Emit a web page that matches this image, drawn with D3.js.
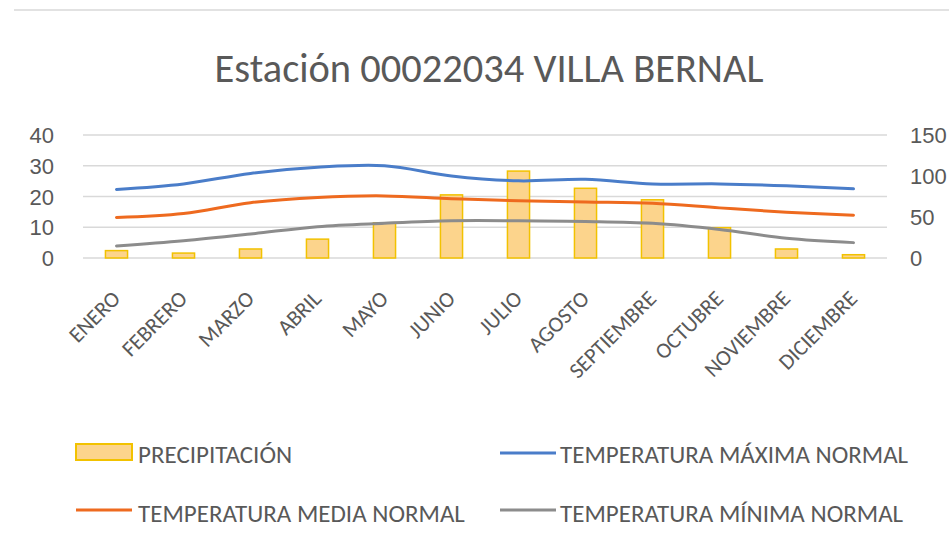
<!DOCTYPE html>
<html><head><meta charset="utf-8">
<script src="https://cdn.jsdelivr.net/npm/d3@7"></script>
<style>body{margin:0;background:#fff;} svg{display:block;font-family:Carlito,Lato,"Open Sans",sans-serif;}</style>
</head><body>
<svg id="c" width="949" height="549"></svg>
<script>
const months = ["ENERO","FEBRERO","MARZO","ABRIL","MAYO","JUNIO","JULIO","AGOSTO","SEPTIEMBRE","OCTUBRE","NOVIEMBRE","DICIEMBRE"];
const precipitacion = [9, 6, 11, 23, 43, 77, 106, 85, 71, 37, 11, 4];
const tMax = [22.3, 24.1, 27.5, 29.5, 30.0, 26.7, 25.1, 25.6, 24.1, 24.1, 23.5, 22.5];
const tMedia = [13.2, 14.5, 18.0, 19.7, 20.2, 19.3, 18.6, 18.2, 17.8, 16.3, 14.9, 13.9];
const tMin = [3.9, 5.6, 7.8, 10.2, 11.3, 12.1, 12.1, 11.9, 11.3, 9.3, 6.4, 5.0];
const leftTicks = [0, 10, 20, 30, 40];
const rightTicks = [0, 50, 100, 150];
const title = "Estación 00022034 VILLA BERNAL";
const legendLabels = ["PRECIPITACIÓN","TEMPERATURA MÁXIMA NORMAL","TEMPERATURA MEDIA NORMAL","TEMPERATURA MÍNIMA NORMAL"];

const svg = d3.select("#c");
const textCol = "#595959";
const L = 83, R = 887, T = 135, B = 258;

// frame line at top
svg.append("line").attr("x1",14).attr("x2",949).attr("y1",10).attr("y2",10).attr("stroke","#d9d9d9").attr("stroke-width",1.5);

// title
const tt = svg.append("text").attr("x",489).attr("y",82).attr("text-anchor","middle")
  .attr("fill",textCol).style("font-size","36px").text(title);
(function(){const w=tt.node().getComputedTextLength(); const target=549; const fs=36*target/w; tt.style("font-size",fs+"px");})();

const x = d3.scaleBand().domain(months).range([L,R]).paddingInner(0.67).paddingOuter(0.335);
const yL = d3.scaleLinear().domain([0,40]).range([B,T]);
const yR = d3.scaleLinear().domain([0,150]).range([B,T]);

// gridlines
svg.append("g").selectAll("line").data(leftTicks).join("line")
  .attr("x1",L).attr("x2",R).attr("y1",d=>yL(d)).attr("y2",d=>yL(d))
  .attr("stroke","#d9d9d9").attr("stroke-width",1.3);

// left axis
const ga = svg.append("g").attr("transform",`translate(${L-29},0)`)
  .call(d3.axisLeft(yL).tickValues(leftTicks).tickSize(0).tickPadding(0));
ga.select(".domain").remove();
ga.selectAll("text").attr("fill",textCol).style("font-size","22px").style("font-family","inherit").attr("dy","0.35em");

// right axis
const gr = svg.append("g").attr("transform",`translate(${R+23},0)`)
  .call(d3.axisRight(yR).tickValues(rightTicks).tickSize(0).tickPadding(0));
gr.select(".domain").remove();
gr.selectAll("text").attr("fill",textCol).style("font-size","22px").style("font-family","inherit").attr("dy","0.35em");

// bars
svg.append("g").selectAll("rect").data(precipitacion).join("rect")
  .attr("x",(d,i)=>x(months[i])).attr("width",x.bandwidth())
  .attr("y",d=>yR(d)).attr("height",d=>B-yR(d))
  .attr("fill","#fcd48c").attr("stroke","#f2c200").attr("stroke-width",1.5);

// lines
const cx = i => x(months[i]) + x.bandwidth()/2;
const line = d3.line().x((d,i)=>cx(i)).y(d=>yL(d)).curve(d3.curveCatmullRom.alpha(0.5));
const series = [[tMin,"#8c8c8c"],[tMedia,"#ee6a1f"],[tMax,"#4a7dc9"]];
series.forEach(([s,c])=>{
  svg.append("path").datum(s).attr("d",line).attr("fill","none").attr("stroke",c).attr("stroke-width",3).attr("stroke-linecap","round");
});

// category labels
svg.append("g").selectAll("text").data(months).join("text")
  .attr("transform",d=>`translate(${x(d)+x.bandwidth()/2+5},${300}) rotate(-45)`)
  .attr("text-anchor","end").attr("fill",textCol).style("font-size","22px").text(d=>d);

// legend
const lg = svg.append("g");
const lf = "25px";
lg.append("rect").attr("x",76).attr("y",444).attr("width",56).attr("height",16)
  .attr("fill","#fcd48c").attr("stroke","#f2c200").attr("stroke-width",2);
const items = [
  {x:500,y:453,c:"#4a7dc9",t:legendLabels[1]},
  {x:76,y:510,c:"#ee6a1f",t:legendLabels[2]},
  {x:500,y:510,c:"#8c8c8c",t:legendLabels[3]}
];
items.forEach(it=>{
  lg.append("line").attr("x1",it.x).attr("x2",it.x+56).attr("y1",it.y).attr("y2",it.y).attr("stroke",it.c).attr("stroke-width",3);
});
const lt = [[138,463,legendLabels[0]],[560,463,legendLabels[1]],[138,522,legendLabels[2]],[560,522,legendLabels[3]]];
lg.selectAll("text.l").data(lt).join("text").attr("class","l")
  .attr("x",d=>d[0]).attr("y",d=>d[1]).attr("fill",textCol).style("font-size",lf).text(d=>d[2]);
</script>
</body></html>
